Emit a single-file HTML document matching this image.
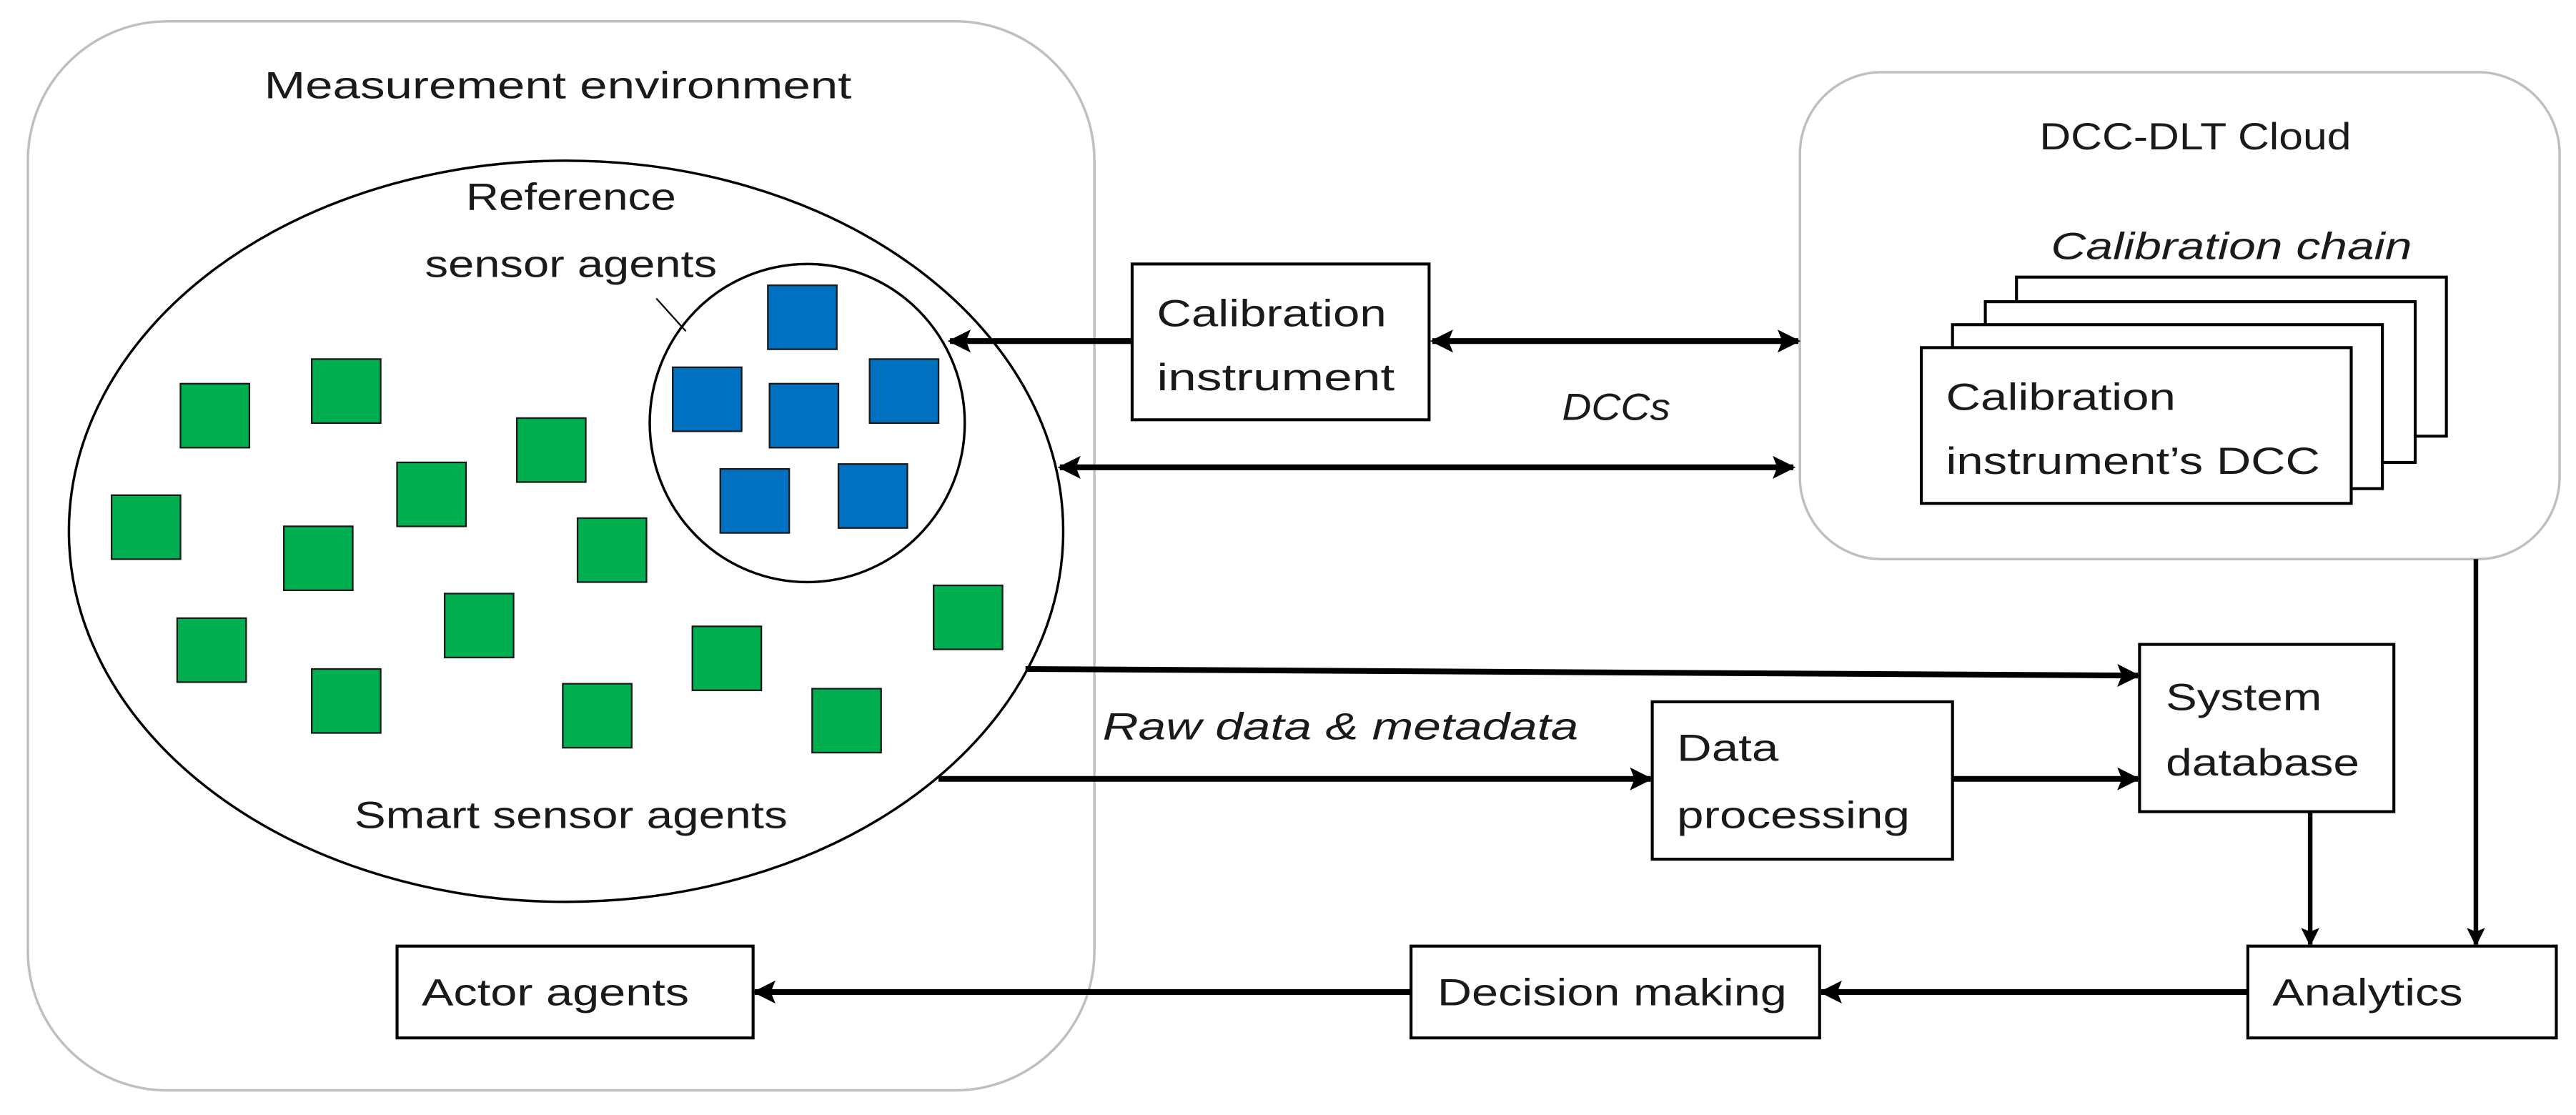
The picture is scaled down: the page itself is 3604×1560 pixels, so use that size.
<!DOCTYPE html>
<html><head><meta charset="utf-8"><style>
html,body{margin:0;padding:0;background:#fff;}
svg{display:block;}
text{font-family:"Liberation Sans",sans-serif;fill:#1a1a1a;}
</style></head><body>
<svg width="3604" height="1560" viewBox="0 0 1570 680" preserveAspectRatio="none" xmlns="http://www.w3.org/2000/svg">
<defs>
<marker id="a" viewBox="0 0 10 10" refX="9" refY="5" markerWidth="4" markerHeight="4" orient="auto-start-reverse" markerUnits="strokeWidth">
<path d="M0,0 L10,5 L0,10 L2,5 z" fill="#000"/></marker>
</defs>
<rect x="17" y="13" width="650" height="652" rx="85" fill="none" stroke="#bfbfbf" stroke-width="1.5"/>
<rect x="1097" y="44" width="463" height="297" rx="50" fill="none" stroke="#bfbfbf" stroke-width="1.5"/>
<text x="340" y="60" font-size="23" text-anchor="middle" textLength="358" lengthAdjust="spacingAndGlyphs">Measurement environment</text>
<text x="1338" y="91" font-size="23" text-anchor="middle" textLength="190" lengthAdjust="spacingAndGlyphs">DCC-DLT Cloud</text>
<ellipse cx="345" cy="324" rx="303" ry="226" fill="none" stroke="#000" stroke-width="1.5"/>
<ellipse cx="492" cy="258" rx="96" ry="97" fill="none" stroke="#000" stroke-width="1.5"/>
<text x="348" y="128" font-size="23" text-anchor="middle" textLength="128" lengthAdjust="spacingAndGlyphs">Reference</text>
<text x="348" y="169" font-size="23" text-anchor="middle" textLength="178" lengthAdjust="spacingAndGlyphs">sensor agents</text>
<line x1="400" y1="182" x2="418" y2="202" stroke="#000" stroke-width="1"/>
<text x="348" y="505" font-size="23" text-anchor="middle" textLength="264" lengthAdjust="spacingAndGlyphs">Smart sensor agents</text>
<g fill="#0070C0" stroke="#1a1a1a" stroke-width="1">
<rect x="468" y="174" width="42" height="39"/><rect x="410" y="224" width="42" height="39"/>
<rect x="469" y="234" width="42" height="39"/><rect x="530" y="219" width="42" height="39"/>
<rect x="439" y="286" width="42" height="39"/><rect x="511" y="283" width="42" height="39"/>
</g>
<g fill="#00B050" stroke="#1a1a1a" stroke-width="1">
<rect x="110" y="234" width="42" height="39"/><rect x="190" y="219" width="42" height="39"/>
<rect x="315" y="255" width="42" height="39"/><rect x="242" y="282" width="42" height="39"/>
<rect x="68" y="302" width="42" height="39"/><rect x="173" y="321" width="42" height="39"/>
<rect x="352" y="316" width="42" height="39"/><rect x="108" y="377" width="42" height="39"/>
<rect x="271" y="362" width="42" height="39"/><rect x="569" y="357" width="42" height="39"/>
<rect x="190" y="408" width="42" height="39"/><rect x="422" y="382" width="42" height="39"/>
<rect x="343" y="417" width="42" height="39"/><rect x="495" y="420" width="42" height="39"/>
</g>
<g fill="#fff" stroke="#000" stroke-width="1.8">
<rect x="690" y="161" width="181" height="95"/>
<rect x="1229" y="169" width="262" height="97"/>
<rect x="1210" y="184" width="262" height="98"/>
<rect x="1190" y="198" width="262" height="100"/>
<rect x="1171" y="212" width="262" height="95"/>
<rect x="1304" y="393" width="155" height="102"/>
<rect x="1007" y="428" width="183" height="96"/>
<rect x="1370" y="577" width="188" height="56"/>
<rect x="860" y="577" width="249" height="56"/>
<rect x="242" y="577" width="217" height="56"/>
</g>
<text x="705" y="199" font-size="23" textLength="140" lengthAdjust="spacingAndGlyphs">Calibration</text>
<text x="705" y="238" font-size="23" textLength="145" lengthAdjust="spacingAndGlyphs">instrument</text>
<text x="985" y="256" font-size="23" font-style="italic" text-anchor="middle" textLength="66" lengthAdjust="spacingAndGlyphs">DCCs</text>
<text x="1360" y="158" font-size="23" font-style="italic" text-anchor="middle" textLength="220" lengthAdjust="spacingAndGlyphs">Calibration chain</text>
<text x="1186" y="250" font-size="23" textLength="140" lengthAdjust="spacingAndGlyphs">Calibration</text>
<text x="1186" y="289" font-size="23" textLength="228" lengthAdjust="spacingAndGlyphs">instrument’s DCC</text>
<text x="1320" y="433" font-size="23" textLength="95" lengthAdjust="spacingAndGlyphs">System</text>
<text x="1320" y="473" font-size="23" textLength="118" lengthAdjust="spacingAndGlyphs">database</text>
<text x="817" y="451" font-size="23" font-style="italic" text-anchor="middle" textLength="290" lengthAdjust="spacingAndGlyphs">Raw data &amp; metadata</text>
<text x="1022" y="464" font-size="23" textLength="62" lengthAdjust="spacingAndGlyphs">Data</text>
<text x="1022" y="505" font-size="23" textLength="142" lengthAdjust="spacingAndGlyphs">processing</text>
<text x="1385" y="613" font-size="23" textLength="116" lengthAdjust="spacingAndGlyphs">Analytics</text>
<text x="876" y="613" font-size="23" textLength="213" lengthAdjust="spacingAndGlyphs">Decision making</text>
<text x="257" y="613" font-size="23" textLength="163" lengthAdjust="spacingAndGlyphs">Actor agents</text>
<g stroke="#000" stroke-width="3.5" fill="none">
<line x1="690" y1="208" x2="579" y2="208" marker-end="url(#a)"/>
<line x1="873" y1="208" x2="1096" y2="208" marker-start="url(#a)" marker-end="url(#a)"/>
<line x1="646" y1="285" x2="1093" y2="285" marker-start="url(#a)" marker-end="url(#a)"/>
<line x1="625" y1="408" x2="1303" y2="412" marker-end="url(#a)"/>
<line x1="572" y1="475" x2="1006" y2="475" marker-end="url(#a)"/>
<line x1="1190" y1="475" x2="1303" y2="475" marker-end="url(#a)"/>
<line x1="1408" y1="495" x2="1408" y2="576" stroke-width="2.8" marker-end="url(#a)"/>
<line x1="1509" y1="341" x2="1509" y2="576" stroke-width="2.8" marker-end="url(#a)"/>
<line x1="1370" y1="605" x2="1110" y2="605" marker-end="url(#a)"/>
<line x1="860" y1="605" x2="460" y2="605" marker-end="url(#a)"/>
</g>
</svg>
</body></html>
